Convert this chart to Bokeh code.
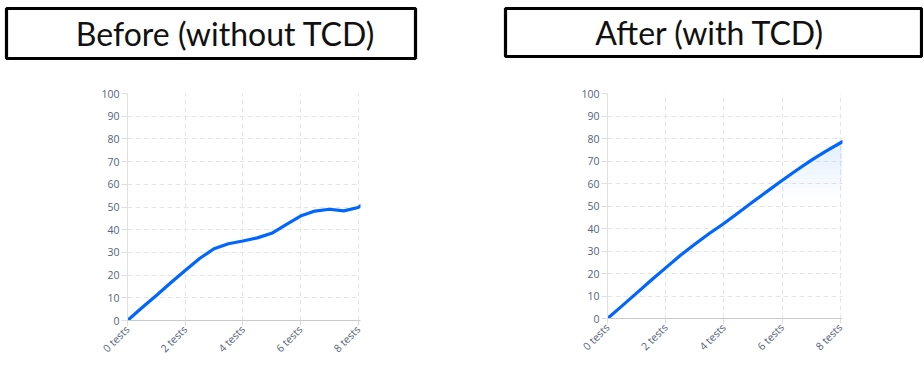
import numpy as np
from bokeh.plotting import figure
from bokeh.layouts import row, column
from bokeh.models import FixedTicker, Label, Range1d
from bokeh.embed import file_html
from bokeh.resources import INLINE

# ---------------- data ----------------
x_tests = [0, 0.5, 1, 1.5, 2, 2.5, 3, 3.5, 4, 4.5, 5, 5.5, 6, 6.5, 7, 7.5, 8, 8.08]
before_vals = [0, 5.6, 11, 16.6, 22, 27.3, 31.6, 33.8, 35, 36.4, 38.4, 42.2, 46, 48.2, 49, 48.3, 49.8, 50.5]
after_vals = [0, 5.6, 11.3, 17, 22.5, 28, 33, 37.8, 42.2, 47, 51.9, 56.6, 61.3, 65.9, 70.3, 74.3, 78, 78.6]
x_ticks = [0, 2, 4, 6, 8]
x_tick_labels = ["0 tests", "2 tests", "4 tests", "6 tests", "8 tests"]
y_ticks = list(range(0, 101, 10))
titles = ["Before (without TCD)", "After (with TCD)"]

LINE = "#0066ff"
GRID = "#e6e6e6"
LABEL = "#55627a"


def title_box(text, bl, fw, br, bt, fh, bb, tx, ty):
    t = figure(title=None, frame_width=fw, frame_height=fh, min_border_left=bl, min_border_right=br,
               min_border_top=bt, min_border_bottom=bb,
               x_range=Range1d(0, 1), y_range=Range1d(0, 1),
               x_axis_location=None, y_axis_location=None,
               output_backend="svg", toolbar_location=None, tools="")
    t.grid.visible = False
    t.outline_line_color = "black"
    t.outline_line_width = 3.2
    t.outline_line_alpha = 1.0
    t.border_fill_color = "white"
    t.background_fill_color = "white"
    t.add_layout(Label(x=tx, y=ty, x_units="screen", y_units="screen", text=text,
                       text_font="Lato", text_font_size="32px", text_color="#111111",
                       text_align="center", text_baseline="middle"))
    return t


def panel(vals, bl, fw, br, bt, fh, bb):
    p = figure(title=None, frame_width=fw, frame_height=fh, min_border_left=bl, min_border_right=br,
               min_border_top=bt, min_border_bottom=bb,
               x_range=Range1d(0, 8.08), y_range=Range1d(0, 100),
               output_backend="svg", toolbar_location=None, tools="")
    p.outline_line_color = None
    p.background_fill_color = "white"
    p.border_fill_color = "white"

    # soft fill under the line, fading out towards ~52
    v = np.array(vals, dtype=float)
    levels = np.arange(50, 84, 2)
    for lo, hi in zip(levels[:-1], levels[1:]):
        mid = (lo + hi) / 2
        a = max(0.0, 0.11 * (mid - 52) / 26)
        if a <= 0:
            continue
        top = np.clip(v, lo, hi)
        p.varea(x=x_tests, y1=[lo] * len(x_tests), y2=top, fill_color=LINE, fill_alpha=a)

    p.line(x_tests, vals, line_color=LINE, line_width=3.2, line_join="round", line_cap="round")

    p.xaxis.ticker = FixedTicker(ticks=x_ticks)
    p.xaxis.major_label_overrides = {t: l for t, l in zip(x_ticks, x_tick_labels)}
    p.xaxis.major_label_orientation = np.pi / 4
    p.xaxis.minor_tick_line_color = None
    p.xaxis.major_tick_out = 5
    p.xaxis.major_tick_in = 0
    p.xaxis.major_tick_line_color = "#dddddd"
    p.xaxis.axis_line_color = "#c8c8c8"
    p.xaxis.major_label_standoff = 2

    p.yaxis.ticker = FixedTicker(ticks=y_ticks)
    p.yaxis.minor_tick_line_color = None
    p.yaxis.major_tick_out = 6
    p.yaxis.major_tick_in = 0
    p.yaxis.major_tick_line_color = "#e0e0e0"
    p.yaxis.axis_line_color = "#e0e0e0"
    p.yaxis.major_label_standoff = 2

    for ax in (p.xaxis, p.yaxis):
        ax.major_label_text_font = "Open Sans"
        ax.major_label_text_font_size = "10.5px"
        ax.major_label_text_color = LABEL

    p.xgrid.ticker = FixedTicker(ticks=x_ticks)
    p.ygrid.ticker = FixedTicker(ticks=y_ticks)
    for g in (p.xgrid, p.ygrid):
        g.grid_line_color = GRID
        g.grid_line_dash = "5 3"
        g.grid_line_width = 1
    return p


t1 = title_box(titles[0], 6, 409, 48, 6, 50, 6, 219, 25)
t2 = title_box(titles[1], 42, 416, 2, 8, 48, 6, 204.5, 24)
p1 = panel(before_vals, 127, 233, 103, 30, 227, 36)
p2 = panel(after_vals, 144, 235, 81, 31, 225, 37)

lay = column(row(t1, t2), row(p1, p2))

with open("out.html", "w") as f:
    f.write(file_html(lay, INLINE))
